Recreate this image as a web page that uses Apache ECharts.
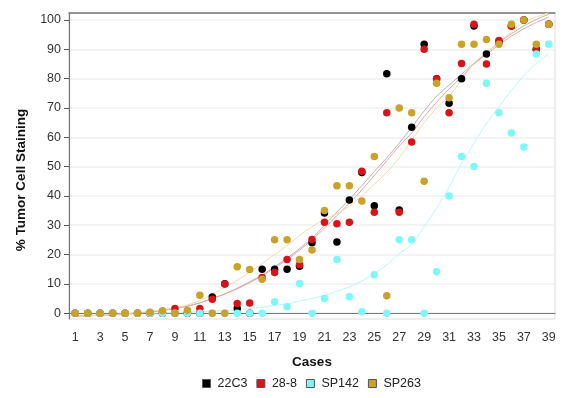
<!DOCTYPE html>
<html>
<head>
<meta charset="utf-8">
<script src="https://cdn.jsdelivr.net/npm/echarts@6/dist/echarts.min.js"></script>
<style>
  html, body { margin: 0; padding: 0; background: #fff; }
  #chart { width: 575px; height: 398px; }
</style>
</head>
<body>
<div id="chart"></div>
<script>
const cases = ['1','2','3','4','5','6','7','8','9','10','11','12','13','14','15','16','17','18','19','20',
  '21','22','23','24','25','26','27','28','29','30','31','32','33','34','35','36','37','38','39']
const seriesNames = ['22C3', '28-8', 'SP142', 'SP263']
const yTicks = [0, 10, 20, 30, 40, 50, 60, 70, 80, 90, 100]

// measured points, one per case
const pts22C3 = [0,0,0,0,0,0,0,0,0,0, 0,5.5,10,1.6,0,15,15,15,16,24,
  34.2,24.3,38.6,48,36.6,81.7,35.2,63.4,91.7,80, 71.6,80,98,88.4,92.5,98,100,90,98.6]
const pts288 = [0,0,0,0,0,0,0,0,1.6,0, 1.6,4.7,9.9,3.3,3.5,12.2,13.9,18.3,16.5,25.1,
  31,30.5,31,48.4,34.4,68.4,34.4,58.4,90,80, 68.4,85.2,98.6,85,93,98,100,90,98.6]
const ptsSP142 = [0,0,0,0,0,0,0,0,0,0, 0,0,0,0,0,0,3.9,2.2,10.1,0,
  5,18.3,5.6,0.5,13.1,0,25,25,0,14.1, 40,53.4,50,78.4,68.4,61.5,56.7,88.4,91.7]
const ptsSP263 = [0,0,0,0,0,0,0.3,0.8,0,1, 6.1,0,0,15.8,14.9,11.6,25,25,18.3,21.5,
  35,43.5,43.5,38.3,53.4,5.9,70,68.4,45,78.4, 73.5,91.7,91.7,93.4,91.7,98.6,100,91.7,98.6]

// trend curves
const fit22C3 = [-1,-0.9,-0.7,-0.5,-0.3,0,0.4,0.9,1.6,2.4, 3.5,5,6.6,8.5,10.7,13,15.8,18.8,22,25.5,
  30,34.5,38.8,43.5,48.3,53,58,63.4,69,74, 77.8,81.5,85.3,88.8,92.3,95.3,98,100.2,102]
const fit288 = [-1,-0.9,-0.7,-0.5,-0.3,0,0.4,0.9,1.6,2.4, 3.5,5,6.5,8.3,10.4,12.7,15.4,18.3,21.5,25,
  29,33.3,37.5,42,47,52,57,61.5,67,72, 76.5,80.5,85,88.3,91.5,94.5,97,99.2,101]
const fitSP142 = [null,null,null,null,null,null,0,0.1,0.2,0.3, 0.5,0.7,0.9,1.2,1.6,2,2.6,3.2,4.1,5,
  6.1,7.5,9,11,13.5,16.5,20.2,23.5,29.5,35.8, 43,51,58,64.8,70.4,76,81,85.2,88.6]
const fitSP263 = [-1,-0.9,-0.7,-0.5,-0.2,0.2,0.6,1.2,1.8,2.8, 4.3,6.5,8.8,11.2,14,17,20,23,26.5,29.5,
  32,34,36.5,40,44,48,53,59,65,70, 74,79.5,85.3,89,92.5,96,99.4,101,102.5]

const pointColors = ['#000000', '#d7141a', '#7ff7f7', '#c9a22a']
const lineColors = ['#b4b4b4', '#eaa3a3', '#b9f7f7', '#efdca8']
const pointData = [pts22C3, pts288, ptsSP142, ptsSP263]
const fitData = [fit22C3, fit288, fitSP142, fitSP263]

const chart = echarts.init(document.getElementById('chart'), null, { renderer: 'canvas' })

const lineSeries = fitData.map((d, i) => ({
  name: seriesNames[i] + ' fit', type: 'line', data: d,
  smooth: 0.25, showSymbol: false, silent: true, z: 1,
  lineStyle: { width: 1, color: lineColors[i] },
}))
const pointSeries = pointData.map((d, i) => ({
  name: seriesNames[i], type: 'scatter', data: d,
  symbol: 'circle', symbolSize: 7.5, z: 3,
  itemStyle: { color: pointColors[i], opacity: 1 },
}))

chart.setOption({
  animation: false,
  backgroundColor: '#fff',
  textStyle: { fontFamily: 'Liberation Sans, Arial, sans-serif' },
  grid: { left: 69, right: 20, top: 13, bottom: 79, show: true, borderColor: '#dcdcdc', borderWidth: 1 },
  legend: {
    top: 372, left: 197, itemWidth: 8, itemHeight: 8, itemGap: 9,
    textStyle: { fontSize: 12.5, color: '#222', padding: [0, 0, 0, 2] },
    data: seriesNames.map((n) => ({ name: n, icon: 'rect', itemStyle: { borderColor: '#555', borderWidth: 1 } })),
  },
  xAxis: [{
    type: 'category', data: cases, boundaryGap: true,
    name: 'Cases', nameLocation: 'middle', nameGap: 36,
    nameTextStyle: { fontSize: 13.5, fontWeight: 'bold', color: '#111' },
    axisLine: { lineStyle: { color: '#777', width: 1.2 } },
    axisTick: { alignWithLabel: true, interval: 0, length: 5, lineStyle: { color: '#555' } },
    axisLabel: { interval: 1, fontSize: 12.5, color: '#333', margin: 12 },
    splitLine: { show: false },
  }, {
    type: 'category', data: cases, position: 'top',
    axisLine: { show: true, lineStyle: { color: '#777', width: 1.5 } },
    axisTick: { show: false }, axisLabel: { show: false },
  }],
  yAxis: {
    type: 'value', min: -2, max: 102.4, minInterval: 10, maxInterval: 10,
    name: '% Tumor Cell Staining', nameLocation: 'middle', nameGap: 41,
    nameTextStyle: { fontSize: 13.5, fontWeight: 'bold', color: '#111', padding: [0, 28, 0, 0] },
    axisLine: { show: true, lineStyle: { color: '#777', width: 1.2 } },
    axisTick: { show: true, length: 5, customValues: yTicks, lineStyle: { color: '#555' } },
    axisLabel: {
      fontSize: 12.5, color: '#333', margin: 8, customValues: yTicks,
      formatter: (v) => (v % 10 === 0 ? String(v) : ''),
    },
    splitLine: { lineStyle: { color: '#efefef', width: 1.5 } },
  },
  series: [...lineSeries, ...pointSeries],
})
</script>
</body>
</html>
